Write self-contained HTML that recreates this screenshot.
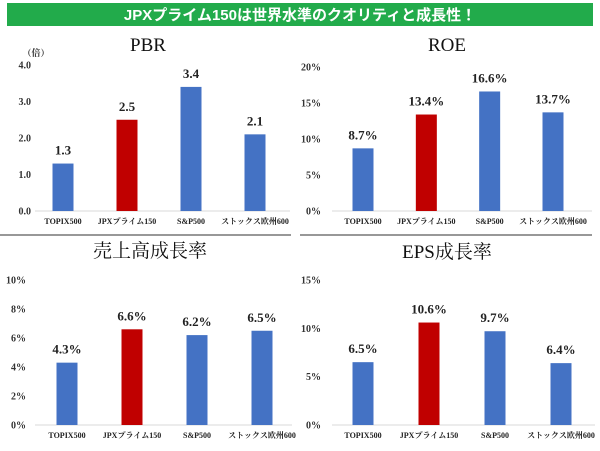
<!DOCTYPE html>
<html><head><meta charset="utf-8"><style>
body{margin:0;background:#fff;width:600px;height:446px;overflow:hidden;font-family:"Liberation Serif","Noto Serif CJK SC",serif}
svg text{font-family:"Liberation Serif","Noto Serif CJK SC",serif}
</style></head><body>
<svg id="c" width="600" height="446">
<rect x="7" y="3" width="586" height="23" fill="#22ab4b"/>
<text x="300" y="20" text-anchor="middle" fill="#fff" font-size="15" font-weight="bold" style="font-family:'Liberation Sans','Noto Sans CJK JP',sans-serif">JPXプライム150は世界水準のクオリティと成長性！</text>
<line x1="0" y1="235" x2="291" y2="235" stroke="#777" stroke-width="1.5"/>
<line x1="300" y1="235" x2="592" y2="235" stroke="#777" stroke-width="1.5"/>
<text x="36" y="56" text-anchor="middle" font-size="9" font-weight="bold" fill="#333">（倍）</text>
</svg>
<script>
const categories=["TOPIX500","JPXプライム150","S&P500","ストックス欧州600"];
const pbrValues=[1.3,2.5,3.4,2.1];
const roeValues=[8.7,13.4,16.6,13.7];
const salesValues=[4.3,6.6,6.2,6.5];
const epsValues=[6.5,10.6,9.7,6.4];
const pbrTicks=[0,1,2,3,4];
const roeTicks=[0,5,10,15,20];
const salesTicks=[0,2,4,6,8,10];
const epsTicks=[0,5,10,15];
const svg=document.getElementById('c');
const NS='http://www.w3.org/2000/svg';
function mk(tag,attrs,text){const e=document.createElementNS(NS,tag);for(const k in attrs)e.setAttribute(k,attrs[k]);if(text!==undefined)e.textContent=text;svg.appendChild(e);return e;}
function panel(p){
  const y=v=>p.y0-(v/p.max)*(p.y0-p.yTop);
  const t=mk('text',{x:p.tx,y:p.ty,'text-anchor':'middle','font-size':19,fill:'#111'},p.title);
  
  
  const ax=mk('line',{x1:p.axL,x2:p.axR,y1:p.y0,y2:p.y0,stroke:'#d9d9d9','stroke-width':1});
  
  
  p.ticks.forEach(v=>{
    const e=mk('text',{x:p.lx,y:y(v)+3.5,'text-anchor':'end','font-size':10,'font-weight':'bold',fill:'#333'},p.fmtT(v));
    
    
  });
  p.vals.forEach((v,i)=>{
    const cx=p.cx[0]+i*(p.cx[1]-p.cx[0])/3;
    const b=mk('rect',{x:cx-10.5,y:y(v),width:21,height:p.y0-y(v),fill:i==1?'#c00000':'#4472c4'});
    
    
    const l=mk('text',{x:cx,y:y(v)-9,'text-anchor':'middle','font-size':13,'font-weight':'bold',fill:'#222'},p.fmtV(v));
    
    
    const c=mk('text',{x:cx,y:p.y0+13,'text-anchor':'middle','font-size':8,'font-weight':'bold',fill:'#222'},categories[i]);
    
    
  });
}
panel({key:'pbr',title:'PBR',tx:148,ty:51,vals:pbrValues,ticks:pbrTicks,max:4,y0:211,yTop:65,lx:31,axL:35,axR:290,cx:[63,255],fmtT:v=>v.toFixed(1),fmtV:v=>v.toFixed(1)});
panel({key:'roe',title:'ROE',tx:447,ty:51,vals:roeValues,ticks:roeTicks,max:20,y0:211,yTop:67,lx:321,axL:332,axR:592,cx:[363,553],fmtT:v=>v+'%',fmtV:v=>v.toFixed(1)+'%'});
panel({key:'sales',title:'売上高成長率',tx:150,ty:257,vals:salesValues,ticks:salesTicks,max:10,y0:425,yTop:280,lx:26,axL:35,axR:292,cx:[67,262],fmtT:v=>v+'%',fmtV:v=>v.toFixed(1)+'%'});
panel({key:'eps',title:'EPS成長率',tx:447,ty:258,vals:epsValues,ticks:epsTicks,max:15,y0:425,yTop:280,lx:321,axL:332,axR:595,cx:[363,561],fmtT:v=>v+'%',fmtV:v=>v.toFixed(1)+'%'});
</script>
</body></html>
